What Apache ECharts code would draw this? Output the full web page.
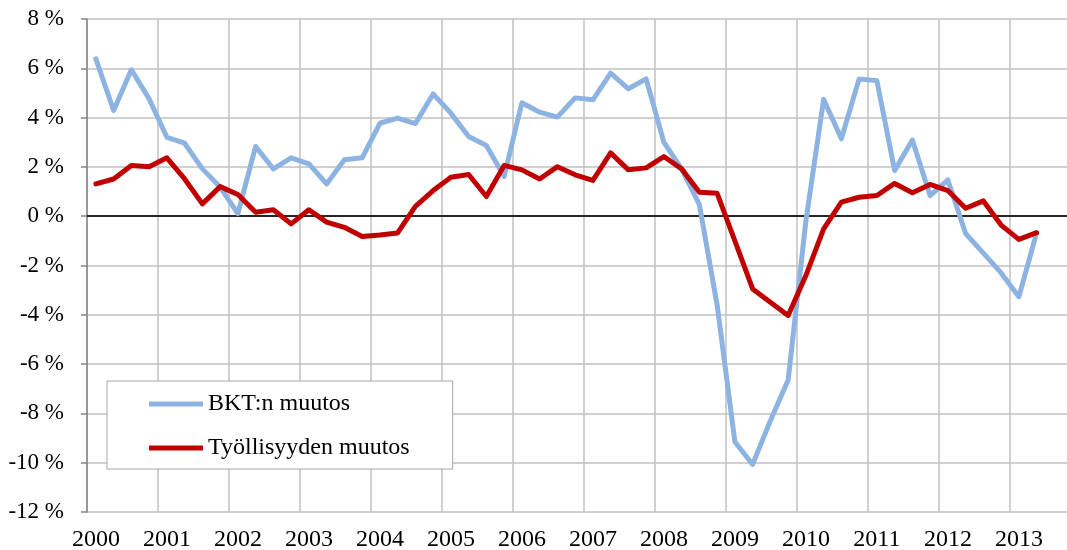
<!DOCTYPE html>
<html>
<head>
<meta charset="utf-8">
<script src="https://cdn.jsdelivr.net/npm/echarts@6/dist/echarts.min.js"></script>
<style>
  html, body { margin: 0; padding: 0; background: #fff; }
  #chart { width: 1067px; height: 550px; }
</style>
</head>
<body>
<div id="chart"></div>
<script>
// quarters 2000Q1 .. 2013Q4 (data ends 2013Q2)
var years = ['2000', '2001', '2002', '2003', '2004', '2005', '2006', '2007', '2008', '2009', '2010', '2011', '2012', '2013']
var quarters = []
years.forEach(function (y) {
  for (var q = 1; q <= 4; q++) quarters.push(y + 'Q' + q)
})

// BKT:n muutos (%)
var bkt = [
  6.38, 4.29, 5.94, 4.76,
  3.20, 2.96, 1.92, 1.18,
  0.10, 2.83, 1.92, 2.37,
  2.12, 1.31, 2.29, 2.37,
  3.77, 3.98, 3.76, 4.96,
  4.18, 3.23, 2.87, 1.61,
  4.60, 4.22, 4.02, 4.80,
  4.72, 5.80, 5.17, 5.57,
  3.00, 1.92, 0.47, -3.60,
  -9.15, -10.07, -8.30, -6.65,
  -0.20, 4.74, 3.14, 5.57,
  5.50, 1.85, 3.09, 0.83,
  1.47, -0.70, -1.50, -2.30,
  -3.27, -0.67
]

// Työllisyyden muutos (%)
var tyo = [
  1.31, 1.51, 2.06, 2.01,
  2.37, 1.51, 0.50, 1.20,
  0.88, 0.16, 0.26, -0.31,
  0.26, -0.24, -0.45, -0.82,
  -0.76, -0.68, 0.40, 1.04,
  1.58, 1.69, 0.80, 2.06,
  1.88, 1.51, 2.01, 1.68,
  1.45, 2.57, 1.88, 1.96,
  2.42, 1.92, 0.97, 0.93,
  -1.00, -2.95, -3.49, -4.03,
  -2.41, -0.51, 0.57, 0.77,
  0.84, 1.33, 0.95, 1.29,
  1.04, 0.32, 0.62, -0.36,
  -0.94, -0.67
]

var yMin = -12
var yMax = 8
var yStep = 2

var font = '"Liberation Serif", "Times New Roman", serif'
var gridColor = '#c0c0c0'
var axisColor = '#868686'

var chart = echarts.init(document.getElementById('chart'))
chart.setOption({
  animation: false,
  textStyle: { fontFamily: font },
  grid: {
    left: 87,
    top: 19,
    bottom: 38,
    width: 994, // plot runs past the right edge of the picture
    outerBoundsMode: 'none',
    containLabel: false
  },
  legend: {
    orient: 'vertical',
    left: 107,
    top: 381,
    padding: [11, 43, 9, 42],
    itemGap: 20,
    itemWidth: 54,
    itemHeight: 5,
    icon: 'rect',
    backgroundColor: '#fff',
    borderColor: '#a6a6a6',
    borderWidth: 1,
    borderRadius: 0,
    textStyle: {
      fontFamily: font,
      fontSize: 24,
      color: '#000',
      padding: [0, 0, 0, 0]
    },
    data: ['BKT:n muutos', 'Työllisyyden muutos']
  },
  xAxis: {
    type: 'category',
    data: quarters,
    boundaryGap: true,
    axisLine: { lineStyle: { color: axisColor, width: 1.5 } },
    axisTick: { show: false, interval: 3 },
    splitLine: {
      show: true,
      interval: 3,
      lineStyle: { color: gridColor, width: 1.5 }
    },
    axisLabel: {
      interval: 3,
      margin: 16,
      fontFamily: font,
      fontSize: 24,
      color: '#000',
      formatter: function (v) { return v.slice(0, 4) }
    }
  },
  yAxis: {
    type: 'value',
    min: yMin,
    max: yMax,
    interval: yStep,
    axisLine: { show: true, lineStyle: { color: axisColor, width: 1.5 } },
    axisTick: { show: true, inside: false, length: 6, lineStyle: { color: axisColor, width: 1.5 } },
    splitLine: { lineStyle: { color: gridColor, width: 1.5 } },
    axisLabel: {
      margin: 23,
      fontFamily: font,
      fontSize: 23,
      color: '#000',
      formatter: function (v) { return v + ' %' }
    }
  },
  series: [
    {
      name: 'BKT:n muutos',
      type: 'line',
      data: bkt,
      symbol: 'none',
      color: '#8db3e2',
      lineStyle: { width: 5, color: '#8db3e2', join: 'round', cap: 'round' },
      z: 3,
      markLine: {
        silent: true,
        symbol: 'none',
        label: { show: false },
        lineStyle: { color: '#000', width: 1.5, type: 'solid' },
        data: [{ yAxis: 0 }],
        z: 1
      }
    },
    {
      name: 'Työllisyyden muutos',
      type: 'line',
      data: tyo,
      symbol: 'none',
      color: '#c00000',
      lineStyle: { width: 5, color: '#c00000', join: 'round', cap: 'round' },
      z: 4
    }
  ]
})
</script>
</body>
</html>
